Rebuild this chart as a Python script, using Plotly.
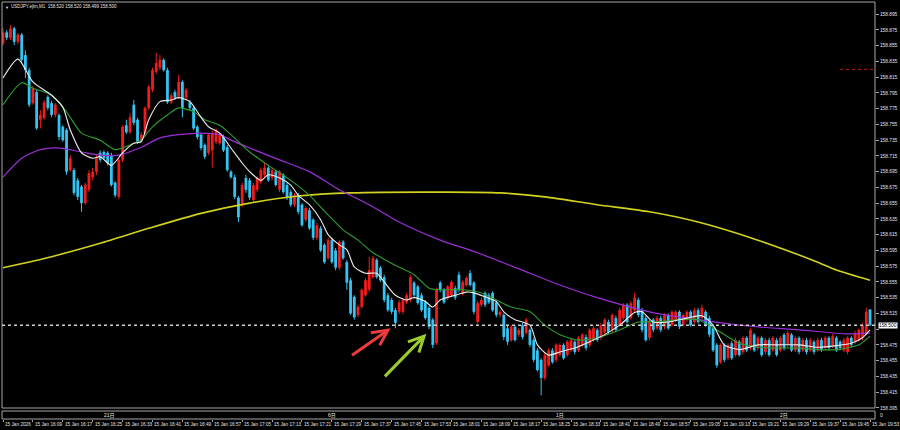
import plotly.graph_objects as go

# ---------------- data ----------------
open_ = [
158.858,158.872,158.865,158.877,158.860,158.869,158.843,158.824,158.782,158.796,
158.761,158.763,158.790,158.782,158.767,158.767,158.752,158.748,158.697,158.697,
158.684,158.676,158.655,158.672,158.688,158.695,158.719,158.720,158.719,158.716,
158.681,158.663,158.710,158.754,158.745,158.780,158.761,158.735,158.744,158.776,
158.799,158.822,158.827,158.837,158.824,158.783,158.796,158.790,158.809,158.789,
158.783,158.776,158.752,158.742,158.729,158.719,158.722,158.733,158.731,158.739,
158.726,158.695,158.688,158.662,158.653,158.687,158.684,158.659,158.672,158.682,
158.691,158.700,158.687,158.695,158.672,158.691,158.678,158.669,158.653,158.665,
158.653,158.634,158.646,158.634,158.611,158.623,158.602,158.585,158.608,158.595,
158.573,158.606,158.580,158.557,158.536,158.513,158.523,158.538,158.545,158.561,
158.583,158.573,158.561,158.538,158.532,158.519,158.517,158.517,158.529,158.532,
158.554,158.549,158.538,158.529,158.522,158.507,158.477,158.554,158.545,158.535,
158.538,158.547,158.564,158.541,158.551,158.566,158.554,158.504,158.526,158.541,
158.538,158.541,158.529,158.513,158.513,158.496,158.481,158.498,158.488,158.500,
158.490,158.494,158.481,158.468,158.456,158.433,158.449,158.468,158.456,158.462,
158.475,158.462,158.468,158.479,158.468,158.475,158.485,158.475,158.481,158.494,
158.484,158.491,158.504,158.494,158.509,158.500,158.509,158.526,158.509,158.519,
158.532,158.519,158.509,158.484,158.507,158.496,158.509,158.498,158.513,158.500,
158.507,158.517,158.500,158.507,158.517,158.504,158.519,158.509,158.517,158.509,
158.496,158.475,158.453,158.475,158.458,158.477,158.462,158.479,158.466,158.484,
158.471,158.488,158.471,158.484,158.466,158.481,158.468,158.481,158.468,158.488,
158.475,158.488,158.468,158.484,158.468,158.481,158.468,158.479,158.468,158.481,
158.471,158.484,158.474,158.484,158.479,158.468,158.466,158.484,158.479,158.481,
158.484,158.490,158.520]
high = [
158.877,158.875,158.881,158.879,158.871,158.871,158.849,158.827,158.804,158.799,
158.773,158.786,158.792,158.785,158.782,158.769,158.754,158.750,158.716,158.700,
158.687,158.678,158.681,158.697,158.700,158.716,158.722,158.722,158.721,158.719,
158.683,158.712,158.754,158.761,158.769,158.786,158.763,158.745,158.778,158.805,
158.827,158.846,158.843,158.839,158.827,158.795,158.799,158.818,158.811,158.801,
158.786,158.778,158.754,158.744,158.731,158.744,158.747,158.750,158.744,158.742,
158.729,158.697,158.691,158.664,158.681,158.691,158.687,158.681,158.689,158.700,
158.706,158.702,158.700,158.697,158.697,158.693,158.681,158.672,158.668,158.668,
158.655,158.651,158.649,158.636,158.630,158.626,158.604,158.611,158.611,158.598,
158.608,158.608,158.583,158.560,158.538,158.526,158.547,158.560,158.587,158.588,
158.585,158.575,158.564,158.541,158.535,158.522,158.532,158.535,158.541,158.564,
158.556,158.551,158.541,158.532,158.524,158.509,158.547,158.556,158.547,158.551,
158.557,158.550,158.568,158.557,158.562,158.570,158.556,158.531,158.535,158.543,
158.541,158.543,158.532,158.519,158.515,158.499,158.500,158.500,158.496,158.503,
158.509,158.496,158.484,158.471,158.458,158.465,158.471,158.471,158.477,158.477,
158.477,158.481,158.484,158.481,158.486,158.490,158.488,158.496,158.499,158.496,
158.503,158.509,158.507,158.515,158.512,158.522,158.528,158.528,158.531,158.541,
158.535,158.522,158.512,158.507,158.509,158.512,158.512,158.515,158.515,158.519,
158.519,158.519,158.515,158.519,158.519,158.522,158.522,158.526,158.519,158.512,
158.499,158.477,158.477,158.477,158.477,158.480,158.484,158.481,158.486,158.486,
158.496,158.490,158.486,158.486,158.484,158.484,158.486,158.484,158.486,158.490,
158.493,158.490,158.486,158.486,158.484,158.484,158.484,158.481,158.484,158.484,
158.486,158.486,158.489,158.486,158.481,158.484,158.486,158.486,158.493,158.496,
158.503,158.522,158.520]
low = [
158.855,158.862,158.862,158.856,158.857,158.834,158.814,158.777,158.780,158.748,
158.750,158.761,158.773,158.764,158.764,158.735,158.733,158.691,158.695,158.665,
158.659,158.644,158.653,158.669,158.684,158.691,158.707,158.710,158.703,158.676,
158.662,158.660,158.707,158.743,158.743,158.754,158.730,158.733,158.742,158.773,
158.796,158.819,158.824,158.822,158.781,158.781,158.786,158.787,158.764,158.786,
158.773,158.748,158.736,158.722,158.711,158.716,158.700,158.730,158.729,158.720,
158.695,158.686,158.660,158.631,158.650,158.668,158.659,158.656,158.669,158.679,
158.688,158.682,158.684,158.676,158.669,158.667,158.659,158.650,158.650,158.641,
158.625,158.631,158.621,158.608,158.608,158.593,158.578,158.583,158.578,158.570,
158.570,158.583,158.545,158.513,158.507,158.510,158.521,158.536,158.542,158.559,
158.559,158.555,158.529,158.517,158.514,158.496,158.514,158.514,158.527,158.529,
158.536,158.526,158.517,158.507,158.495,158.471,158.475,158.542,158.527,158.532,
158.536,158.532,158.542,158.538,158.549,158.549,158.514,158.502,158.523,158.523,
158.527,158.517,158.510,158.510,158.481,158.475,158.479,158.479,158.485,158.482,
158.488,158.472,158.453,158.441,158.411,158.430,158.447,158.451,158.453,158.460,
158.456,158.460,158.466,158.463,158.466,158.472,158.468,158.472,158.479,158.479,
158.481,158.489,158.489,158.491,158.491,158.498,158.507,158.502,158.507,158.517,
158.510,158.491,158.479,158.481,158.491,158.494,158.491,158.495,158.494,158.498,
158.504,158.495,158.498,158.504,158.498,158.502,158.502,158.507,158.498,158.485,
158.466,158.446,158.451,158.453,158.456,158.456,158.460,158.460,158.463,158.466,
158.468,158.466,158.468,158.460,158.463,158.460,158.466,158.460,158.466,158.468,
158.472,158.466,158.466,158.463,158.466,158.463,158.466,158.463,158.466,158.466,
158.468,158.468,158.471,158.466,158.468,158.466,158.463,158.472,158.476,158.479,
158.481,158.488,158.499]
close = [
158.872,158.865,158.877,158.860,158.869,158.837,158.824,158.780,158.801,158.750,
158.767,158.783,158.776,158.767,158.780,158.739,158.735,158.695,158.712,158.668,
158.663,158.655,158.678,158.693,158.695,158.712,158.710,158.712,158.706,158.678,
158.665,158.710,158.752,158.745,158.764,158.757,158.733,158.742,158.776,158.803,
158.824,158.833,158.837,158.824,158.783,158.792,158.789,158.809,158.776,158.799,
158.776,158.750,158.739,158.725,158.714,158.742,158.744,158.748,158.742,158.722,
158.697,158.688,158.663,158.637,158.678,158.672,158.662,158.678,158.687,158.697,
158.700,158.684,158.697,158.678,158.695,158.669,158.662,158.653,158.665,158.644,
158.627,158.649,158.623,158.611,158.627,158.595,158.580,158.608,158.580,158.573,
158.606,158.585,158.554,158.515,158.510,158.523,158.545,158.557,158.570,158.585,
158.561,158.557,158.532,158.519,158.517,158.503,158.529,158.532,158.538,158.561,
158.538,158.528,158.519,158.509,158.498,158.475,158.545,158.545,158.529,158.549,
158.555,158.535,158.545,158.555,158.560,158.551,158.517,158.528,158.532,158.526,
158.529,158.519,158.513,158.517,158.485,158.479,158.498,158.481,158.494,158.485,
158.507,158.475,158.456,158.443,158.433,158.462,158.468,158.453,158.475,158.475,
158.458,158.479,158.481,158.466,158.484,158.488,158.471,158.494,158.496,158.481,
158.500,158.507,158.491,158.513,158.494,158.519,158.526,158.504,158.528,158.535,
158.513,158.494,158.481,158.504,158.494,158.509,158.494,158.513,158.496,158.517,
158.517,158.498,158.513,158.517,158.500,158.519,158.504,158.522,158.500,158.488,
158.468,158.449,158.475,158.456,158.475,158.458,158.481,158.462,158.484,158.468,
158.494,158.468,158.484,158.462,158.481,158.462,158.484,158.462,158.484,158.471,
158.490,158.468,158.484,158.466,158.481,158.466,158.481,158.466,158.481,158.468,
158.484,158.471,158.486,158.468,158.471,158.481,158.484,158.475,158.490,158.494,
158.500,158.517,158.500]

# moving averages read at sample bars
ma_white_bars = [0,4,8,13,16,18,21,24,26,29,32,35,37,39,42,45,47,50,53,55,58,61,64,66,69,71,74,77,79,82,
                 85,87,90,92,94,97,100,102,105,108,110,113,115,117,121,124,126,129,132,134,137,141,143,146,149,153,
                 157,161,165,169,171,174,178,183,187,190,193,197,202,207,213,218,223,227,230,232]
ma_white = [158.814,158.838,158.809,158.792,158.777,158.748,158.719,158.712,158.714,158.703,
            158.719,158.731,158.733,158.761,158.784,158.786,158.789,158.784,158.764,158.752,
            158.744,158.725,158.706,158.695,158.684,158.691,158.687,158.678,158.665,158.653,
            158.634,158.615,158.602,158.596,158.574,158.566,158.566,158.555,158.538,158.532,
            158.535,158.530,158.523,158.532,158.538,158.542,158.541,158.536,158.530,158.517,
            158.507,158.500,158.475,158.462,158.466,158.471,158.479,158.488,158.500,158.516,
            158.517,158.504,158.504,158.509,158.512,158.500,158.475,158.469,158.475,158.475,
            158.475,158.472,158.474,158.477,158.484,158.494]
ma_green_bars = [0,5,8,13,17,21,26,30,35,37,40,44,47,51,54,58,61,66,71,77,82,87,91,95,99,105,110,114,117,123,
                 128,132,136,141,145,149,154,159,165,170,175,181,186,191,197,202,207,213,218,223,229,232]
ma_green = [158.780,158.808,158.801,158.792,158.771,158.744,158.735,158.723,158.731,158.735,
            158.752,158.767,158.776,158.771,158.761,158.754,158.742,158.720,158.703,158.684,
            158.665,158.640,158.621,158.608,158.592,158.576,158.564,158.547,158.545,158.545,
            158.541,158.532,158.523,158.517,158.500,158.488,158.481,158.484,158.494,158.504,
            158.504,158.507,158.507,158.494,158.477,158.472,158.471,158.471,158.469,158.469,
            158.475,158.486]
ma_purple_bars = [0,5,10,15,21,26,31,37,42,47,53,58,61,66,74,82,90,98,106,117,127,141,149,159,173,186,199,213,226,232]
ma_purple = [158.688,158.712,158.723,158.725,158.720,158.716,158.716,158.726,158.738,158.742,
             158.744,158.742,158.735,158.725,158.710,158.695,158.672,158.653,158.631,158.608,
             158.592,158.566,158.551,158.535,158.517,158.507,158.499,158.494,158.489,158.490]
ma_yellow_bars = [0,13,26,39,53,66,79,93,119,133,145,159,173,186,202,218,223,232]
ma_yellow = [158.573,158.587,158.604,158.623,158.642,158.655,158.664,158.668,158.669,
             158.668,158.663,158.653,158.644,158.631,158.608,158.580,158.570,158.557]

date_labels = ["15 Jan 2026", "15 Jan 16:09", "15 Jan 16:17", "15 Jan 16:25", "15 Jan 16:33",
               "15 Jan 16:41", "15 Jan 16:49", "15 Jan 16:57", "15 Jan 17:05", "15 Jan 17:13",
               "15 Jan 17:21", "15 Jan 17:29", "15 Jan 17:37", "15 Jan 17:45", "15 Jan 17:53",
               "15 Jan 18:01", "15 Jan 18:09", "15 Jan 18:17", "15 Jan 18:25", "15 Jan 18:33",
               "15 Jan 18:41", "15 Jan 18:49", "15 Jan 18:57", "15 Jan 19:05", "15 Jan 19:13",
               "15 Jan 19:21", "15 Jan 19:29", "15 Jan 19:37", "15 Jan 19:45", "15 Jan 19:53"]
date_label_bars = [0, 8, 16, 24, 32, 40, 48, 56, 64, 72, 80, 88, 96, 104, 112, 120, 128, 136, 144,
                   152, 160, 168, 176, 184, 192, 200, 208, 216, 224, 232]
price_ticks = [158.395, 158.415, 158.435, 158.455, 158.475, 158.495, 158.515, 158.535, 158.555,
               158.575, 158.595, 158.615, 158.635, 158.655, 158.675, 158.695, 158.715, 158.735,
               158.755, 158.775, 158.795, 158.815, 158.835, 158.855, 158.875, 158.895]
sub_labels = ["21日", "6日", "1日", "2日"]
sub_label_bars = [28.5, 88, 149, 209]

title_text = "USDJPY.ejlm,M1  158.520 158.520 158.499 158.500"
bid_price = 158.500
alert_price = 158.825
alert_start_bar = 224
red_arrow_tip = (103.7, 158.496)
green_arrow_tip = (113.3, 158.489)

# ---------------- styles ----------------
BULL = "#f21c1c"
BEAR = "#35c4f2"
FRAME = "#a6a6a6"
TXT = "#e4e4e4"
FONT = "Liberation Sans, Noto Sans CJK JP, sans-serif"

bars = list(range(len(open_)))
bull = [i for i in bars if close[i] >= open_[i]]
bear = [i for i in bars if close[i] < open_[i]]

def body(idx):
    base = [min(open_[i], close[i]) for i in idx]
    h = [max(abs(close[i] - open_[i]), 0.0006) for i in idx]
    return base, h

def wicks(idx):
    xs, ys = [], []
    for i in idx:
        xs += [i, i, None]
        ys += [low[i], high[i], None]
    return xs, ys

fig = go.Figure()
for idx, col in ((bull, BULL), (bear, BEAR)):
    wx, wy = wicks(idx)
    fig.add_trace(go.Scatter(x=wx, y=wy, mode="lines", line=dict(color=col, width=1),
                             hoverinfo="skip"))
    b, h = body(idx)
    fig.add_trace(go.Bar(x=idx, y=h, base=b, width=0.75, marker=dict(color=col, line=dict(width=0)),
                         hoverinfo="skip"))

for bx, vals, col, w in ((ma_yellow_bars, ma_yellow, "#d2d21e", 1.6),
                         (ma_purple_bars, ma_purple, "#9a2fd6", 1.2),
                         (ma_green_bars, ma_green, "#2e9e2e", 1.1),
                         (ma_white_bars, ma_white, "#ececec", 1.1)):
    fig.add_trace(go.Scatter(x=bx, y=vals, mode="lines",
                             line=dict(color=col, width=w, shape="spline", smoothing=0.7),
                             hoverinfo="skip"))

main_bottom = 11 / 417
sub_top = 8 / 417

shapes = [
    dict(type="rect", xref="paper", yref="paper", x0=0, x1=1, y0=main_bottom, y1=1,
         line=dict(color=FRAME, width=1), layer="above"),
    dict(type="rect", xref="paper", yref="paper", x0=0, x1=1, y0=0, y1=sub_top,
         line=dict(color=FRAME, width=1), layer="above"),
    dict(type="line", xref="paper", yref="y", x0=0, x1=1, y0=bid_price, y1=bid_price,
         line=dict(color="#cfcfcf", width=1.5, dash="dot")),
    dict(type="line", xref="x", yref="y", x0=alert_start_bar, x1=233.3, y0=alert_price, y1=alert_price,
         line=dict(color="#d01c1c", width=1, dash="dot")),
]

ann = []
ann.append(dict(xref="paper", yref="paper", x=0, y=1, xshift=1, yshift=-1, xanchor="left", yanchor="top",
                text="▼", showarrow=False, font=dict(size=4, color=TXT, family=FONT)))
ann.append(dict(xref="paper", yref="paper", x=0, y=1, xshift=7, yshift=0, xanchor="left", yanchor="top",
                text=title_text, showarrow=False, font=dict(size=4.5, color=TXT, family=FONT)))
for b_, t in zip(date_label_bars, date_labels):
    ann.append(dict(xref="x", yref="paper", x=b_, y=0, yshift=-1, xanchor="left", yanchor="top",
                    text=t, showarrow=False, font=dict(size=4.7, color=TXT, family=FONT)))
for b_, t in zip(sub_label_bars, sub_labels):
    ann.append(dict(xref="x", yref="paper", x=b_, y=sub_top / 2, xanchor="center", yanchor="middle",
                    text=t, showarrow=False, font=dict(size=5, color=TXT, family=FONT)))
ann.append(dict(xref="paper", yref="paper", x=1, y=sub_top / 2, xshift=3, xanchor="left", yanchor="middle",
                text="0", showarrow=False, font=dict(size=5, color=TXT, family=FONT)))
ann.append(dict(xref="paper", yref="y", x=1, y=bid_price, xshift=3, xanchor="left", yanchor="middle",
                text=f"{bid_price:.3f}", showarrow=False, bgcolor="#ffffff", borderpad=0,
                font=dict(size=4.8, color="#000000", family=FONT)))
ann.append(dict(xref="x", yref="y", x=red_arrow_tip[0], y=red_arrow_tip[1], ax=-40, ay=28,
                showarrow=True, arrowhead=5, arrowsize=1.0, arrowwidth=3, arrowcolor="#ee3b3b", text=""))
ann.append(dict(xref="x", yref="y", x=green_arrow_tip[0], y=green_arrow_tip[1], ax=-43, ay=44,
                showarrow=True, arrowhead=5, arrowsize=1.0, arrowwidth=3, arrowcolor="#9ccc2c", text=""))

# the bid box covers the neighbouring axis label, as in the terminal
tick_text = ["" if abs(v - bid_price) < 0.008 else f"{v:.3f}" for v in price_ticks]

fig.update_layout(
    width=900, height=430,
    margin=dict(l=2, r=22, t=2, b=11, pad=0),
    paper_bgcolor="#000000", plot_bgcolor="#000000",
    showlegend=False, barmode="overlay",
    shapes=shapes, annotations=ann,
    xaxis=dict(range=[-0.267, 233.33], showgrid=False, zeroline=False, showline=False,
               tickvals=date_label_bars, ticks="outside", ticklen=2, tickcolor=FRAME,
               showticklabels=False, anchor="free", position=0, fixedrange=True),
    yaxis=dict(domain=[main_bottom, 1], range=[158.3948, 158.9105], side="right",
               showgrid=False, zeroline=False, showline=False,
               tickvals=price_ticks, ticktext=tick_text,
               ticks="outside", ticklen=3, tickcolor=FRAME,
               tickfont=dict(size=4.8, color=TXT, family=FONT), fixedrange=True),
)

fig.write_html("out.html", config={"displayModeBar": False},
               post_script="document.body.style.margin='0';document.body.style.overflow='hidden';")
